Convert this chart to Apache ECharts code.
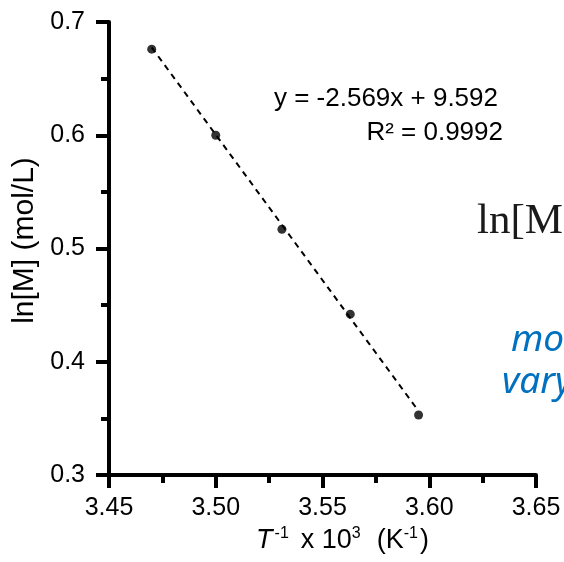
<!DOCTYPE html>
<html>
<head>
<meta charset="utf-8">
<script src="https://cdn.jsdelivr.net/npm/echarts@6/dist/echarts.min.js"></script>
<style>
  html, body { margin: 0; padding: 0; background: #fff; }
  #chart { width: 564px; height: 562px; }
</style>
</head>
<body>
<div id="chart"></div>
<script>
// Inverse temperature (1000/T, K^-1) and ln of the concentration (mol/L)
const invT = [3.470, 3.500, 3.531, 3.563, 3.595];
const lnM = [0.676, 0.600, 0.517, 0.442, 0.353];

// Linear least-squares fit reported on the plot
const fitSlope = -2.569;
const fitIntercept = 9.592;
const fitR2 = 0.9992;

// Axis ranges
const xRange = [3.45, 3.65, 0.05];
const yRange = [0.3, 0.7, 0.1];

const points = invT.map((x, i) => [x, lnM[i]]);
const xFitMin = Math.min(...invT);
const xFitMax = Math.max(...invT);
const fitLine = [
  [xFitMin, fitSlope * xFitMin + fitIntercept],
  [xFitMax, fitSlope * xFitMax + fitIntercept]
];

const FONT = '"Liberation Sans", Arial, sans-serif';
const AXIS_W = 4;
const axisCommon = {
  axisLine: { show: true, onZero: false, lineStyle: { color: '#000', width: AXIS_W } },
  axisTick: { show: true, inside: false, length: 13, lineStyle: { color: '#000', width: AXIS_W } },
  minorTick: { show: true, splitNumber: 2, length: 8, lineStyle: { color: '#000', width: AXIS_W } },
  splitLine: { show: false },
  minorSplitLine: { show: false }
};

const chart = echarts.init(document.getElementById('chart'), null, { renderer: 'canvas' });
chart.setOption({
  animation: false,
  backgroundColor: '#fff',
  grid: { left: 109, right: 28, top: 22, bottom: 87, containLabel: false },
  xAxis: Object.assign({
    type: 'value',
    min: xRange[0], max: xRange[1], interval: xRange[2],
    axisLabel: {
      margin: 21, color: '#000', fontSize: 25, fontFamily: FONT,
      formatter: v => v.toFixed(2)
    },
    name: '{it|T}{sup|-1}{gx|x 10}{sup|3}{gk|(K}{sup|-1}{n|)}',
    nameLocation: 'middle',
    nameGap: 49,
    nameTextStyle: {
      padding: [0, 0, 0, 40],
      rich: {
        it: { fontSize: 27, fontStyle: 'italic', fontFamily: FONT, color: '#000', lineHeight: 30, padding: [0, 2, 0, 0] },
        n: { fontSize: 27, fontFamily: FONT, color: '#000', lineHeight: 30 },
        gx: { fontSize: 27, fontFamily: FONT, color: '#000', lineHeight: 30, padding: [0, 0, 0, 10] },
        gk: { fontSize: 27, fontFamily: FONT, color: '#000', lineHeight: 30, padding: [0, 0, 0, 14] },
        sup: { fontSize: 16, fontFamily: FONT, color: '#000', verticalAlign: 'top', lineHeight: 16, padding: [0, 2, 0, 0] }
      }
    }
  }, axisCommon),
  yAxis: Object.assign({
    type: 'value',
    min: yRange[0], max: yRange[1], interval: yRange[2],
    axisLabel: {
      margin: 24, color: '#000', fontSize: 25, fontFamily: FONT,
      formatter: v => v.toFixed(1)
    },
    name: 'ln[M] (mol/L)',
    nameLocation: 'middle',
    nameGap: 66,
    nameTextStyle: { fontSize: 30, fontFamily: FONT, color: '#000', padding: [0, 0, 0, 16] }
  }, axisCommon),
  series: [
    {
      type: 'line',
      data: fitLine,
      symbol: 'none',
      silent: true,
      lineStyle: { color: '#000', width: 2, type: [6, 5] },
      z: 1
    },
    {
      type: 'scatter',
      data: points,
      symbol: 'circle',
      symbolSize: 9,
      itemStyle: { color: '#000' },
      z: 2
    }
  ],
  graphic: [
    {
      type: 'text', right: 66, top: 86,
      style: {
        text: 'y = ' + fitSlope.toFixed(3) + 'x + ' + fitIntercept.toFixed(3),
        font: '26px ' + FONT, fill: '#000', textAlign: 'right'
      }
    },
    {
      type: 'text', right: 61, top: 120,
      style: {
        text: 'R² = ' + fitR2.toFixed(4),
        font: '26px ' + FONT, fill: '#000', textAlign: 'right'
      }
    },
    {
      type: 'text', left: 477, top: 200,
      style: { text: 'ln[M', font: '43px "Liberation Serif", "Times New Roman", serif', fill: '#1a1a1a' }
    },
    {
      type: 'text', left: 511, top: 322,
      style: { text: 'mo', font: 'italic 37px "Noto Sans", "Open Sans", sans-serif', fill: '#0070C0' }
    },
    {
      type: 'text', left: 502, top: 364,
      style: { text: 'vary', font: 'italic 37px "Noto Sans", "Open Sans", sans-serif', fill: '#0070C0' }
    }
  ]
});
</script>
</body>
</html>
